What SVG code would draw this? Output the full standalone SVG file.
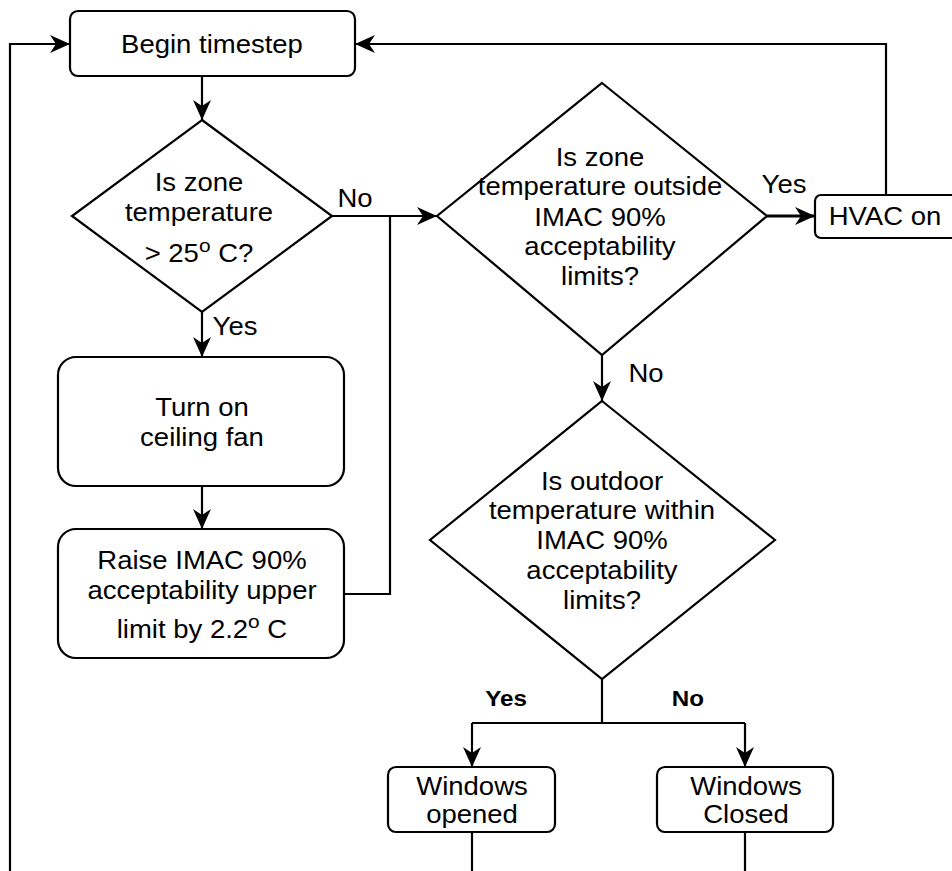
<svg xmlns="http://www.w3.org/2000/svg" width="952" height="871" viewBox="0 0 952 871">
<style>
.box{fill:#fff;stroke:#000;stroke-width:2.2}
.ln{fill:none;stroke:#000;stroke-width:2.2}
.t{font-family:"Liberation Sans",Arial,sans-serif;font-size:25px;fill:#000;text-anchor:middle;transform-box:fill-box;transform-origin:center;transform:scaleX(1.1)}
.b{font-weight:bold;font-size:22px}
.sup{font-size:19px}
</style>
<defs>
<marker id="arr" markerWidth="20" markerHeight="18" refX="20" refY="9" orient="auto" markerUnits="userSpaceOnUse">
<path d="M0,0 L20,9 L0,18 L6,9 z" fill="#000"/>
</marker>
</defs>
<rect width="952" height="871" fill="#fff"/>

<g id="connectors">
<path class="ln" d="M202,76 L202,120" marker-end="url(#arr)"/>
<path class="ln" d="M202,312 L202,357" marker-end="url(#arr)"/>
<path class="ln" d="M202,486 L202,529" marker-end="url(#arr)"/>
<path class="ln" d="M332,216 L437,216" marker-end="url(#arr)"/>
<path class="ln" d="M344,594 L390,594 L390,216"/>
<path class="ln" d="M767,216 L815,216" style="stroke-width:3" marker-end="url(#arr)"/>
<path class="ln" d="M886,195 L886,44 L355,44" marker-end="url(#arr)"/>
<path class="ln" d="M602,355 L602,401" marker-end="url(#arr)"/>
<path class="ln" d="M602,679 L602,723"/>
<path class="ln" d="M472,723 L745,723"/>
<path class="ln" d="M472,723 L472,767" marker-end="url(#arr)"/>
<path class="ln" d="M745,723 L745,767" marker-end="url(#arr)"/>
<path class="ln" d="M472,832 L472,871"/>
<path class="ln" d="M745,832 L745,871"/>
<path class="ln" d="M10,871 L10,44 L70,44" marker-end="url(#arr)"/>
<text class="t" x="355" y="207">No</text>
<text class="t" x="235" y="335">Yes</text>
<text class="t" x="784" y="193">Yes</text>
<text class="t" x="646" y="382">No</text>
<text class="t b" x="506" y="706">Yes</text>
<text class="t b" x="688" y="706">No</text>
</g>

<g id="begin">
<rect class="box" x="70" y="11" width="285" height="65" rx="8"/>
<text class="t" x="212" y="53">Begin timestep</text>
</g>

<g id="decision1">
<polygon class="box" points="202,120 332,216 202,312 72,216"/>
<text class="t" x="199"><tspan x="199" y="191">Is zone</tspan><tspan x="199" y="221">temperature</tspan><tspan x="199" y="262">&gt; 25</tspan><tspan class="sup" dy="-10">o</tspan><tspan dy="10"> C?</tspan></text>
</g>

<g id="fan">
<rect class="box" x="58" y="357" width="286" height="129" rx="18"/>
<text class="t" x="202"><tspan x="202" y="416">Turn on</tspan><tspan x="202" y="446">ceiling fan</tspan></text>
</g>

<g id="raise">
<rect class="box" x="58" y="529" width="286" height="129" rx="18"/>
<text class="t" x="202"><tspan x="202" y="569">Raise IMAC 90%</tspan><tspan x="202" y="599">acceptability upper</tspan><tspan x="202" y="638">limit by 2.2</tspan><tspan class="sup" dy="-10">o</tspan><tspan dy="10"> C</tspan></text>
</g>

<g id="decision2">
<polygon class="box" points="602,83 767,216 602,355 437,216"/>
<text class="t" x="600"><tspan x="600" y="166">Is zone</tspan><tspan x="600" y="195">temperature outside</tspan><tspan x="600" y="226">IMAC 90%</tspan><tspan x="600" y="255">acceptability</tspan><tspan x="600" y="285">limits?</tspan></text>
</g>

<g id="hvac">
<rect class="box" x="815" y="195" width="160" height="43" rx="6"/>
<text class="t" x="885" y="225">HVAC on</text>
</g>

<g id="decision3">
<polygon class="box" points="602,401 775,540 602,679 430,540"/>
<text class="t" x="602"><tspan x="602" y="490">Is outdoor</tspan><tspan x="602" y="519">temperature within</tspan><tspan x="602" y="549">IMAC 90%</tspan><tspan x="602" y="579">acceptability</tspan><tspan x="602" y="609">limits?</tspan></text>
</g>

<g id="opened">
<rect class="box" x="388" y="767" width="167" height="65" rx="8"/>
<text class="t" x="472"><tspan x="472" y="795">Windows</tspan><tspan x="472" y="823">opened</tspan></text>
</g>

<g id="closed">
<rect class="box" x="657" y="767" width="176" height="65" rx="8"/>
<text class="t" x="746"><tspan x="746" y="795">Windows</tspan><tspan x="746" y="823">Closed</tspan></text>
</g>
</svg>
